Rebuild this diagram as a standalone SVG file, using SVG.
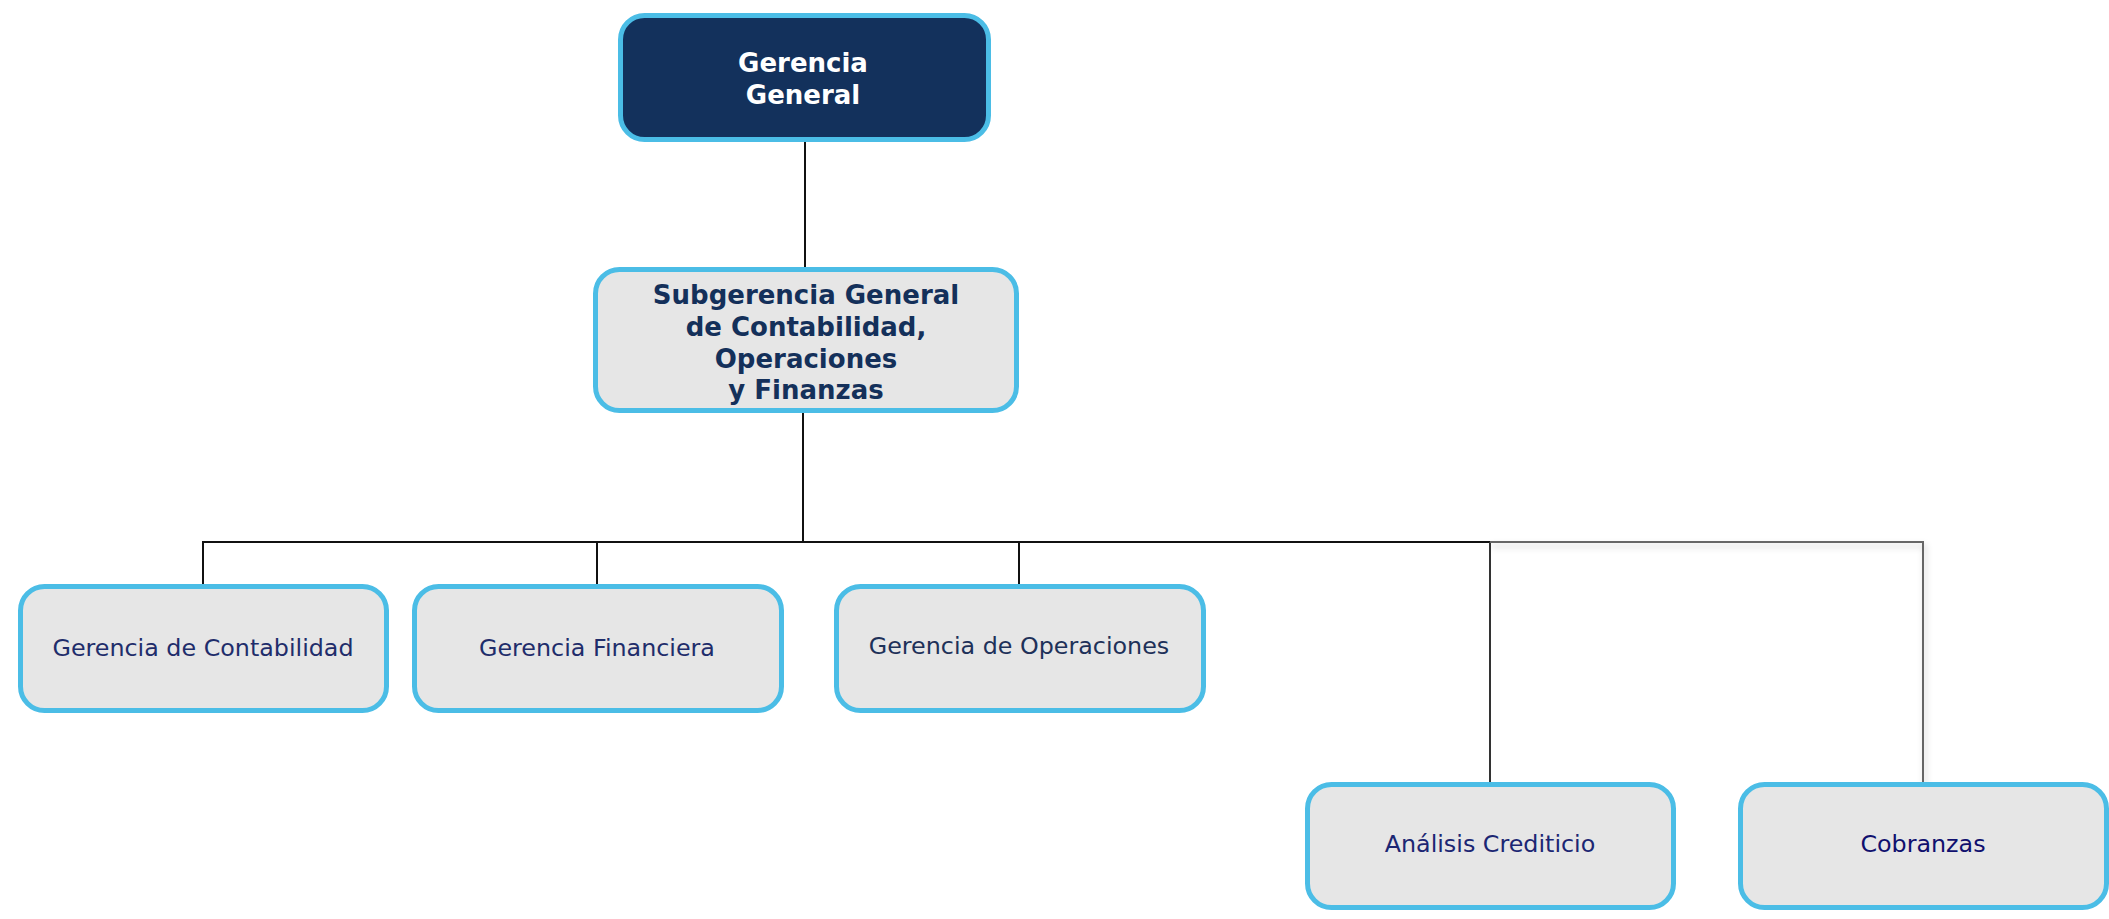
<svg xmlns="http://www.w3.org/2000/svg" width="2109" height="919" viewBox="0 0 2109 919">
<defs>
<style>
.box{fill:#e6e6e6;stroke:#4bbde6;stroke-width:5}
.top{fill:#13315c;stroke:#4bbde6;stroke-width:5}
.t{font-family:"DejaVu Sans","Liberation Sans",sans-serif;text-anchor:middle}
.b{font-weight:bold;font-size:26px}
.r{font-size:23.8px}
.ln{stroke:#111;stroke-width:2;fill:none}
.gl{stroke:#666;stroke-width:2;fill:none}
</style>
<filter id="sh" x="-5%" y="-20%" width="110%" height="140%">
<feDropShadow dx="2" dy="4" stdDeviation="3" flood-color="#000" flood-opacity="0.22"/>
</filter>
</defs>
<rect width="2109" height="919" fill="#fff"/>
<g id="connectors">
<line class="ln" x1="805" y1="142" x2="805" y2="268"/>
<line class="ln" x1="803" y1="412" x2="803" y2="542"/>
<line class="ln" x1="202" y1="542" x2="1490" y2="542"/>
<line class="ln" x1="203" y1="542" x2="203" y2="585"/>
<line class="ln" x1="597" y1="542" x2="597" y2="585"/>
<line class="ln" x1="1019" y1="542" x2="1019" y2="585"/>
<line stroke="#333" stroke-width="2" x1="1490" y1="542" x2="1490" y2="783"/>
<path class="gl" filter="url(#sh)" d="M1490 542 H1923 V783"/>
</g>
<g id="gerencia-general">
<rect class="top" x="620.5" y="15.5" width="368" height="124" rx="24"/>
<text class="t b" fill="#ffffff" x="803" y="72">Gerencia</text>
<text class="t b" fill="#ffffff" x="803" y="104">General</text>
</g>
<g id="subgerencia">
<rect class="box" x="595.5" y="269.5" width="421" height="141" rx="24"/>
<text class="t b" fill="#14305a" x="806" y="304">Subgerencia General</text>
<text class="t b" fill="#14305a" x="806" y="336">de Contabilidad,</text>
<text class="t b" fill="#14305a" x="806" y="368">Operaciones</text>
<text class="t b" fill="#14305a" x="806" y="399">y Finanzas</text>
</g>
<g id="gerencia-contabilidad">
<rect class="box" x="20.5" y="586.5" width="366" height="124" rx="24"/>
<text class="t r" fill="#1f2d6b" x="203" y="656">Gerencia de Contabilidad</text>
</g>
<g id="gerencia-financiera">
<rect class="box" x="414.5" y="586.5" width="367" height="124" rx="24"/>
<text class="t r" fill="#1f2d6b" x="597" y="656">Gerencia Financiera</text>
</g>
<g id="gerencia-operaciones">
<rect class="box" x="836.5" y="586.5" width="367" height="124" rx="24"/>
<text class="t r" fill="#1e3159" x="1019" y="654">Gerencia de Operaciones</text>
</g>
<g id="analisis-crediticio">
<rect class="box" x="1307.5" y="784.5" width="366" height="123" rx="24"/>
<text class="t r" fill="#1c2673" x="1490" y="852">Análisis Crediticio</text>
</g>
<g id="cobranzas">
<rect class="box" x="1740.5" y="784.5" width="366" height="123" rx="24"/>
<text class="t r" fill="#10106e" x="1923" y="852">Cobranzas</text>
</g>
</svg>
